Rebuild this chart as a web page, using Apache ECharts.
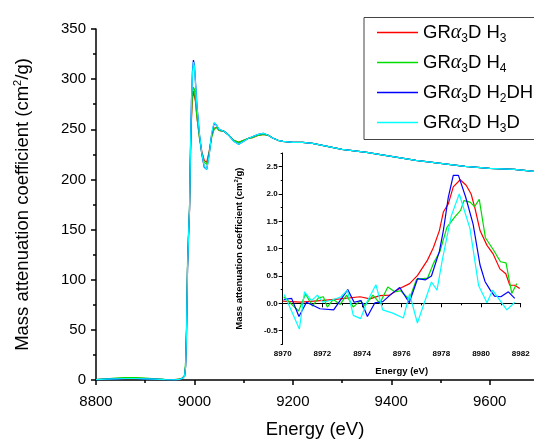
<!DOCTYPE html>
<html><head><meta charset="utf-8">
<script src="https://cdn.jsdelivr.net/npm/echarts@6/dist/echarts.min.js"></script>
<style>html,body{margin:0;padding:0;background:#fff}#c{width:534px;height:444px}</style>
</head><body><div id="c"></div>
<script>
// ---- data ----
const seriesNames = ['GRα3D H3', 'GRα3D H4', 'GRα3D H2DH', 'GRα3D H3D'];
const seriesColors = ['#ff0000', '#00dd00', '#0000ff', '#00ffff'];

const mainEnergy = [8800,8820,8840,8860,8880,8900,8920,8940,8960,8970,8976,8980,8982,8984,8986,8988,8990,8992,8994,8996,8998,9000,9002,9005,9010,9015,9020,9025,9030,9035,9040,9045,9050,9060,9070,9080,9090,9100,9110,9120,9130,9140,9150,9160,9170,9180,9200,9220,9240,9260,9280,9300,9350,9400,9450,9500,9550,9600,9650,9690];
const mainRed = [0.5,1,1.5,1.8,2,1.5,1,0.5,0.3,0.8, 2,4,14,50,112,143,168,222,260,280, 288,287,278,262,243,228,219,217,228,243, 251,252,249,248,244,239,237,239,241,242, 244,245,244,241,239,238,237,237,236,234, 232,230,227,223,219,216,213,211,210,208];
const mainGreen = [0.5,1.2,2,2.5,2.5,2,1.2,0.6,0.3,0.8, 2.2,5,18,56,118,148,172,228,265,285, 292,290,280,263,242,226,217,215,227,242, 250,252,249,248,244,239,237,239,241,242, 244,245,244,241,239,238,237,237,236,234, 232,230,227,223,219,216,213,211,210,208];
const mainBlue = [0.3,0.8,1.2,1.5,1.5,1.2,0.8,0.4,0.2,0.6, 1.8,4,13,48,112,143,170,232,280,308, 319,314,298,275,246,225,212,210,225,245, 256,254,250,248,244,238,235,238,241,243, 245,246,244,241,239,238,237,237,236,234, 232,230,227,223,219,216,213,211,210,208];
const mainCyan = [0.3,0.8,1.2,1.5,1.5,1.2,0.8,0.4,0.2,0.6, 1.8,4,13,48,112,143,170,230,278,306, 317,313,297,274,246,226,213,210,224,246, 257,254,250,248,244,238,235,238,241,243, 245,246,244,241,239,238,237,237,236,234, 232,230,227,223,219,216,213,211,210,208];

const insetRedE = [8970.0,8970.9,8971.9,8972.9,8973.9,8974.4,8974.9,8975.4,8975.9,8976.4,8976.8,8977.3,8977.6,8977.9,8978.1,8978.35,8978.6,8978.95,8979.25,8979.5,8979.7,8979.95,8980.3,8980.6,8980.95,8981.25,8981.45,8981.7,8981.95];
const insetRedV = [0.04,0.02,0.05,0.08,0.12,0.08,0.14,0.15,0.27,0.36,0.51,0.79,1.02,1.33,1.67,1.82,2.13,2.26,2.16,2.0,1.73,1.33,1.06,0.91,0.63,0.54,0.33,0.33,0.27];
const insetGreenE = [8970.05,8970.4,8970.8,8971.15,8971.5,8971.8,8972.05,8972.25,8972.55,8972.9,8973.22,8973.56,8973.9,8974.15,8974.55,8974.9,8975.3,8975.65,8975.95,8976.38,8976.75,8977.3,8977.6,8977.93,8978.28,8978.7,8978.97,8979.14,8979.45,8979.67,8979.91,8980.22,8980.62,8980.98,8981.26,8981.55,8981.8];
const insetGreenV = [0.12,0.0,-0.14,0.17,-0.05,0.1,0.12,-0.07,0.07,-0.02,0.15,-0.07,0.05,-0.04,0.15,0.0,0.3,0.21,0.23,0.07,0.44,0.46,0.73,0.95,1.39,1.59,1.70,1.88,1.85,1.77,1.9,1.2,0.98,0.76,0.74,0.18,0.36];
const insetBlueE = [8970.05,8970.45,8970.82,8971.2,8971.88,8972.57,8973.28,8973.6,8973.95,8974.27,8974.65,8975.05,8975.41,8975.9,8976.38,8976.8,8977.2,8977.5,8977.9,8978.1,8978.35,8978.6,8978.86,8979.22,8979.6,8979.95,8980.2,8980.45,8980.68,8981.0,8981.38,8981.7];
const insetBlueV = [0.07,0.09,-0.24,0.02,-0.1,-0.12,0.25,0.02,0.05,-0.24,0.01,0.03,0.15,0.29,0.01,0.45,0.43,0.5,0.95,1.33,1.94,2.34,2.34,1.95,1.45,0.7,0.4,0.25,0.13,0.12,0.21,0.09];
const insetCyanE = [8970.08,8970.84,8971.1,8971.45,8971.75,8972.02,8972.5,8972.94,8973.26,8973.56,8973.93,8974.24,8974.7,8975.04,8975.55,8976.08,8976.4,8976.79,8977.5,8977.78,8978.05,8978.5,8978.9,8979.44,8979.88,8980.3,8980.58,8981.3,8981.7];
const insetCyanV = [0.16,-0.47,0.21,0.05,0.15,0.02,0.06,0.12,0.24,-0.22,-0.28,0.02,0.34,-0.12,-0.18,-0.27,0.17,-0.36,0.39,0.24,0.8,1.6,2.0,1.37,0.32,0.01,0.24,-0.12,0.02];

const mainXTicks = [8800, 9000, 9200, 9400, 9600];
const mainXMinorTicks = [8900, 9100, 9300, 9500];
const insetYTicks = [-0.5, 0, 0.5, 1.0, 1.5, 2.0, 2.5];
const insetYMinorTicks = [-0.75, -0.25, 0.25, 0.75, 1.25, 1.75, 2.25, 2.75];
const legendRichText = {
  'GRα3D H3': '{a|GR}{g|α}{s|3}{a|D H}{s|3}',
  'GRα3D H4': '{a|GR}{g|α}{s|3}{a|D H}{s|4}',
  'GRα3D H2DH': '{a|GR}{g|α}{s|3}{a|D H}{s|2}{a|DH}',
  'GRα3D H3D': '{a|GR}{g|α}{s|3}{a|D H}{s|3}{a|D}'
};

// ---- chart ----
const chart = echarts.init(document.getElementById('c'), null, {renderer: 'canvas'});
const mainY = [mainRed, mainGreen, mainBlue, mainCyan];
const insetE = [insetRedE, insetGreenE, insetBlueE, insetCyanE];
const insetV = [insetRedV, insetGreenV, insetBlueV, insetCyanV];
const axisLineStyle = {color: '#000', width: 1.5};
const series = [];
seriesNames.forEach((n, k) => {
  series.push({
    name: n, type: 'line', xAxisIndex: 0, yAxisIndex: 0, symbol: 'none', animation: false,
    lineStyle: {width: 1.2, color: seriesColors[k]}, itemStyle: {color: seriesColors[k]},
    data: mainEnergy.map((e, i) => [e, mainY[k][i]]), z: 2 + k
  });
});
seriesNames.forEach((n, k) => {
  series.push({
    name: n, type: 'line', xAxisIndex: 2, yAxisIndex: 1, symbol: 'none', animation: false,
    lineStyle: {width: 1.2, color: seriesColors[k]}, itemStyle: {color: seriesColors[k]},
    data: insetE[k].map((e, i) => [e, insetV[k][i]]), z: 2 + k
  });
});

const option = {
  backgroundColor: '#fff',
  animation: false,
  textStyle: {fontFamily: 'Liberation Sans, Arial, sans-serif', color: '#000'},
  grid: [
    {left: 96, right: 0, top: 29, bottom: 62},
    {left: 282.7, right: 13.3, top: 153, bottom: 99.7}
  ],
  legend: {
    data: seriesNames, orient: 'vertical', left: 364, top: 17.5,
    padding: [5, 10, 5, 13], itemGap: 8, itemWidth: 41, itemHeight: 1.3,
    icon: 'rect',
    borderColor: '#444', borderWidth: 1, backgroundColor: '#fff',
    selectedMode: false,
    formatter: n => legendRichText[n],
    textStyle: {
      rich: {
        a: {fontSize: 18.5, lineHeight: 24, color: '#000', fontFamily: 'Liberation Sans'},
        g: {fontSize: 20, lineHeight: 24, color: '#000', fontFamily: 'Liberation Serif', fontStyle: 'italic'},
        s: {fontSize: 12, lineHeight: 10, verticalAlign: 'bottom', color: '#000', fontFamily: 'Liberation Sans'}
      }
    }
  },
  xAxis: [
    {type: 'value', gridIndex: 0, min: 8800, max: 9690, position: 'bottom',
     axisLine: {lineStyle: axisLineStyle}, splitLine: {show: false},
     axisTick: {customValues: mainXTicks, length: 5, lineStyle: axisLineStyle},
     axisLabel: {customValues: mainXTicks, formatter: v => String(v), fontSize: 15, color: '#000', margin: 14},
     name: 'Energy (eV)', nameLocation: 'middle', nameGap: 40,
     nameTextStyle: {fontSize: 18.5, color: '#000'}},
    {type: 'value', gridIndex: 0, min: 8800, max: 9690, position: 'bottom',
     axisLine: {show: false}, splitLine: {show: false}, axisLabel: {show: false},
     axisTick: {customValues: mainXMinorTicks, length: 3, lineStyle: axisLineStyle}},
    {type: 'value', gridIndex: 1, min: 8970, max: 8982, interval: 2, position: 'bottom',
     axisLine: {lineStyle: {color: '#000', width: 1}}, splitLine: {show: false},
     axisTick: {length: 4, lineStyle: {color: '#000', width: 1}},
     minorTick: {show: true, splitNumber: 2, length: 2, lineStyle: {color: '#000', width: 1}},
     axisLabel: {formatter: v => String(v), fontSize: 8, fontWeight: 'bold', color: '#000', margin: 5},
     name: 'Energy (eV)', nameLocation: 'middle', nameGap: 22,
     nameTextStyle: {fontSize: 9.5, fontWeight: 'bold', color: '#000'}}
  ],
  yAxis: [
    {type: 'value', gridIndex: 0, min: 0, max: 350, interval: 50, position: 'left',
     axisLine: {show: true, lineStyle: axisLineStyle}, splitLine: {show: false},
     axisTick: {show: true, length: 5, lineStyle: axisLineStyle},
     minorTick: {show: true, splitNumber: 2, length: 3, lineStyle: axisLineStyle},
     axisLabel: {fontSize: 15, color: '#000', margin: 10},
     name: 'Mass attenuation coefficient (cm{sup|2}/g)', nameLocation: 'middle', nameGap: 62,
     nameTextStyle: {fontSize: 18.5, lineHeight: 22, color: '#000',
       rich: {sup: {fontSize: 11, lineHeight: 11, verticalAlign: 'top', color: '#000'}}}},
    {type: 'value', gridIndex: 1, min: -0.75, max: 2.75, position: 'left',
     axisLine: {show: true, lineStyle: {color: '#000', width: 1}}, splitLine: {show: false},
     axisTick: {show: true, customValues: insetYTicks, length: 4, lineStyle: {color: '#000', width: 1}},
     axisLabel: {customValues: insetYTicks, formatter: v => v.toFixed(1), fontSize: 8, fontWeight: 'bold', color: '#000', margin: 5},
     name: 'Mass attenuation coefficient (cm{sup|2}/g)', nameLocation: 'middle', nameGap: 37,
     nameTextStyle: {fontSize: 9.5, lineHeight: 12, fontWeight: 'bold', color: '#000',
       rich: {sup: {fontSize: 6, lineHeight: 6, verticalAlign: 'top', fontWeight: 'bold', color: '#000'}}}},
    {type: 'value', gridIndex: 1, min: -0.75, max: 2.75, position: 'left',
     axisLine: {show: false}, splitLine: {show: false}, axisLabel: {show: false},
     axisTick: {show: true, customValues: insetYMinorTicks, length: 2, lineStyle: {color: '#000', width: 1}}}
  ],
  series: series
};
chart.setOption(option);
</script></body></html>
